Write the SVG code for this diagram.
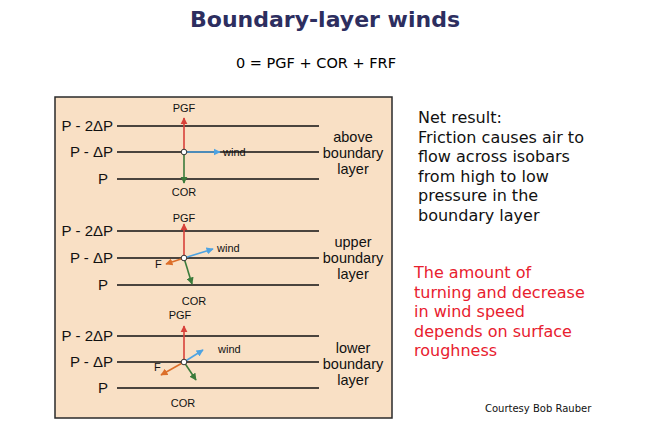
<svg xmlns="http://www.w3.org/2000/svg" width="645" height="439" viewBox="0 0 645 439">
<style>
.title{font-family:"DejaVu Sans",Verdana,sans-serif;font-weight:bold;font-size:22px;fill:#2d2e5f}
.eq{font-family:"DejaVu Sans",Verdana,sans-serif;font-size:14.5px;fill:#000}
.note{font-family:"DejaVu Sans",Verdana,sans-serif;font-size:16px;fill:#111}
.red{font-family:"DejaVu Sans",Verdana,sans-serif;font-size:16px;fill:#e8202e}
.credit{font-family:"DejaVu Sans",Verdana,sans-serif;font-size:10px;fill:#111}
.plab{font-family:"Liberation Sans",Arial,sans-serif;font-size:15px;fill:#111}
.rlab{font-family:"Liberation Sans",Arial,sans-serif;font-size:14.5px;fill:#111}
.slab{font-family:"Liberation Sans",Arial,sans-serif;font-size:11px;fill:#111}
.iso{stroke:#111;stroke-width:1.3}
.pgf{stroke:#d8413a;stroke-width:1.6;fill:none}
.cor{stroke:#3b7b3b;stroke-width:1.6;fill:none}
.wind{stroke:#4ea3e2;stroke-width:1.6;fill:none}
.fr{stroke:#dc6f2a;stroke-width:1.6;fill:none}
.ctr{fill:#fff;stroke:#333;stroke-width:1}
</style>
<defs>
<marker id="aP" viewBox="0 0 10 10" refX="9" refY="5" markerWidth="4.5" markerHeight="4.5" orient="auto" markerUnits="strokeWidth"><path d="M0,0 L10,5 L0,10 z" fill="#d8413a"/></marker>
<marker id="aC" viewBox="0 0 10 10" refX="9" refY="5" markerWidth="4.5" markerHeight="4.5" orient="auto" markerUnits="strokeWidth"><path d="M0,0 L10,5 L0,10 z" fill="#3b7b3b"/></marker>
<marker id="aW" viewBox="0 0 10 10" refX="9" refY="5" markerWidth="4.5" markerHeight="4.5" orient="auto" markerUnits="strokeWidth"><path d="M0,0 L10,5 L0,10 z" fill="#4ea3e2"/></marker>
<marker id="aF" viewBox="0 0 10 10" refX="9" refY="5" markerWidth="4.5" markerHeight="4.5" orient="auto" markerUnits="strokeWidth"><path d="M0,0 L10,5 L0,10 z" fill="#dc6f2a"/></marker>
</defs>
<rect width="645" height="439" fill="#fff"/>
<text class="title" x="325" y="27" text-anchor="middle">Boundary-layer winds</text>
<text class="eq" x="316" y="68" text-anchor="middle">0 = PGF + COR + FRF</text>

<rect id="panel" x="55" y="97" width="337" height="321" fill="#f9e0c5" stroke="#2a2a2a" stroke-width="1.5"/>

<g id="isobars">
<line class="iso" x1="117" y1="126" x2="319" y2="126"/>
<line class="iso" x1="117" y1="152" x2="319" y2="152"/>
<line class="iso" x1="117" y1="179" x2="319" y2="179"/>
<line class="iso" x1="117" y1="231" x2="319" y2="231"/>
<line class="iso" x1="117" y1="258" x2="319" y2="258"/>
<line class="iso" x1="117" y1="285" x2="319" y2="285"/>
<line class="iso" x1="117" y1="336" x2="319" y2="336"/>
<line class="iso" x1="117" y1="362" x2="319" y2="362"/>
<line class="iso" x1="117" y1="388" x2="319" y2="388"/>
</g>

<g id="pressure-labels">
<text class="plab" x="113" y="131" text-anchor="end">P - 2ΔP</text>
<text class="plab" x="113" y="157" text-anchor="end">P - ΔP</text>
<text class="plab" x="108" y="184" text-anchor="end">P</text>
<text class="plab" x="113" y="236" text-anchor="end">P - 2ΔP</text>
<text class="plab" x="113" y="263" text-anchor="end">P - ΔP</text>
<text class="plab" x="108" y="290" text-anchor="end">P</text>
<text class="plab" x="113" y="341" text-anchor="end">P - 2ΔP</text>
<text class="plab" x="113" y="367" text-anchor="end">P - ΔP</text>
<text class="plab" x="108" y="393" text-anchor="end">P</text>
</g>

<g id="layer-above">
<text class="rlab" x="353" y="142" text-anchor="middle">above</text>
<text class="rlab" x="353" y="158" text-anchor="middle">boundary</text>
<text class="rlab" x="353" y="174" text-anchor="middle">layer</text>
</g>
<g id="layer-upper">
<text class="rlab" x="353" y="247" text-anchor="middle">upper</text>
<text class="rlab" x="353" y="263" text-anchor="middle">boundary</text>
<text class="rlab" x="353" y="279" text-anchor="middle">layer</text>
</g>
<g id="layer-lower">
<text class="rlab" x="353" y="353" text-anchor="middle">lower</text>
<text class="rlab" x="353" y="369" text-anchor="middle">boundary</text>
<text class="rlab" x="353" y="385" text-anchor="middle">layer</text>
</g>

<g id="connectors">
<line class="pgf" x1="184" y1="152" x2="184" y2="118" marker-end="url(#aP)"/>
<line class="cor" x1="184" y1="152" x2="184" y2="183" marker-end="url(#aC)"/>
<line class="wind" x1="184" y1="152" x2="220" y2="152" marker-end="url(#aW)"/>

<line class="pgf" x1="184" y1="258" x2="184" y2="224" marker-end="url(#aP)"/>
<line class="wind" x1="184" y1="258" x2="213" y2="249" marker-end="url(#aW)"/>
<line class="fr" x1="184" y1="258" x2="166" y2="264" marker-end="url(#aF)"/>
<line class="cor" x1="184" y1="258" x2="192" y2="284" marker-end="url(#aC)"/>

<line class="pgf" x1="184" y1="362" x2="184" y2="326" marker-end="url(#aP)"/>
<line class="wind" x1="184" y1="362" x2="203" y2="350" marker-end="url(#aW)"/>
<line class="fr" x1="184" y1="362" x2="161" y2="375" marker-end="url(#aF)"/>
<line class="cor" x1="184" y1="362" x2="196" y2="380" marker-end="url(#aC)"/>
</g>

<g id="force-labels">
<text class="slab" x="184" y="112" text-anchor="middle">PGF</text>
<text class="slab" x="184" y="196" text-anchor="middle">COR</text>
<text class="slab" x="223" y="156">wind</text>

<text class="slab" x="184" y="222" text-anchor="middle">PGF</text>
<text class="slab" x="217" y="252">wind</text>
<text class="slab" x="155" y="268">F</text>
<text class="slab" x="194" y="305" text-anchor="middle">COR</text>

<text class="slab" x="180" y="319" text-anchor="middle">PGF</text>
<text class="slab" x="218" y="353">wind</text>
<text class="slab" x="154" y="371">F</text>
<text class="slab" x="183" y="407" text-anchor="middle">COR</text>
</g>

<g id="centers">
<circle class="ctr" cx="184" cy="152" r="2.8"/>
<circle class="ctr" cx="184" cy="258" r="2.8"/>
<circle class="ctr" cx="184" cy="362" r="2.8"/>
</g>

<g id="net-result">
<text class="note" x="418" y="123">Net result:</text>
<text class="note" x="418" y="142.5">Friction causes air to</text>
<text class="note" x="418" y="162">flow across isobars</text>
<text class="note" x="418" y="181.5">from high to low</text>
<text class="note" x="418" y="201">pressure in the</text>
<text class="note" x="418" y="220.5">boundary layer</text>
</g>

<g id="roughness-note">
<text class="red" x="414" y="278">The amount of</text>
<text class="red" x="414" y="297.5">turning and decrease</text>
<text class="red" x="414" y="317">in wind speed</text>
<text class="red" x="414" y="336.5">depends on surface</text>
<text class="red" x="414" y="356">roughness</text>
</g>

<text class="credit" x="485" y="412">Courtesy Bob Rauber</text>
</svg>
